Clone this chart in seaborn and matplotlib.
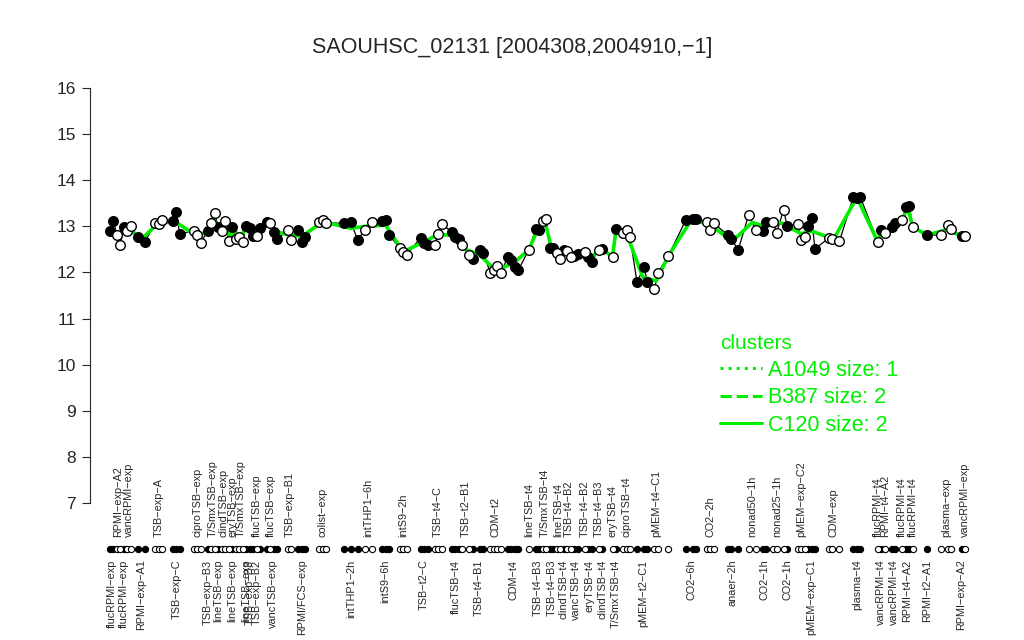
import pandas as pd
import seaborn as sns
import matplotlib.pyplot as plt
import matplotlib.transforms as mtransforms
from matplotlib.lines import Line2D

title = "SAOUHSC_02131 [2004308,2004910,\u22121]"

# one entry per condition group, left to right
group_labels = [
    "flucRPMI-exp", "RPMI-exp-A2", "flucRPMI-exp", "vancRPMI-exp", "RPMI-exp-A1",
    "TSB-exp-A", "TSB-exp-C", "ciproTSB-exp", "TSB-exp-B3", "T/SmxTSB-exp",
    "lineTSB-exp", "clindTSB-exp", "lineTSB-exp", "eryTSB-exp", "T/SmxTSB-exp",
    "lineTSB-exp", "TSB-exp-B3", "flucTSB-exp", "TSB-exp-B2", "vancTSB-exp",
    "flucTSB-exp", "TSB-exp-B1", "RPMI/FCS-exp", "colist-exp", "intTHP1-2h",
    "intTHP1-6h", "intS9-6h", "intS9-2h", "TSB-t2-C", "TSB-t4-C",
    "flucTSB-t4", "TSB-t2-B1", "TSB-t4-B1", "CDM-t2", "CDM-t4",
    "lineTSB-t4", "TSB-t4-B3", "T/SmxTSB-t4", "TSB-t4-B3", "lineTSB-t4",
    "clindTSB-t4", "TSB-t4-B2", "vancTSB-t4", "TSB-t4-B2", "eryTSB-t4",
    "TSB-t4-B3", "clindTSB-t4", "eryTSB-t4", "T/SmxTSB-t4", "ciproTSB-t4",
    "pMEM-t2-C1", "pMEM-t4-C1", "", "CO2-6h", "CO2-2h",
    "anaer-2h", "nonad50-1h", "CO2-1h", "nonad25-1h", "CO2-1h",
    "pMEM-exp-C2", "pMEM-exp-C1", "CDM-exp", "plasma-t4", "flucRPMI-t4",
    "vancRPMI-t4", "RPMI-t4-A2", "vancRPMI-t4", "flucRPMI-t4", "RPMI-t4-A2",
    "flucRPMI-t4", "RPMI-t2-A1", "plasma-exp", "RPMI-exp-A2", "vancRPMI-exp",
]
# B = label below the dot row, T = label above it
group_sides = list(
    "BTBTB" "TBTBT" "BTBTT" "BBTBB" "TTBTB"
    "TBTBT" "BTBTB" "TBTBT" "BTBTB" "TBTBT"
    "BTTBT" "BTBTB" "TBTBT" "BTBTB" "TBTBT"
)
# sample order index of every sample in each group
group_x = [
    [1, 2], [3, 4], [5], [6, 7], [9, 11],
    [14, 15, 16], [19, 20, 21], [25, 26, 27], [29], [30, 31],
    [32], [33, 34], [36], [35, 37], [38, 39],
    [40], [41], [43], [42, 44], [46, 48, 49],
    [47], [52, 53], [55, 56, 57], [61, 62, 63], [68, 70, 72],
    [74, 76], [79, 80, 81], [84, 85, 86], [90, 91, 92], [94, 95, 96],
    [99, 100, 101], [102, 104], [105, 107, 108], [110, 111, 112, 113], [115, 116, 117, 118],
    [121], [123, 124], [125, 126], [127, 128], [129, 130],
    [131], [132, 133], [134, 135], [137], [138, 139],
    [141], [142], [145], [146], [148, 149, 150],
    [152, 154, 155], [157, 158], [161], [166, 168, 169], [172, 173, 174],
    [178, 179, 181], [184, 186], [188, 189], [191, 192, 194], [195],
    [198, 199, 200], [201, 202, 203], [207, 208, 210], [214, 215, 216], [221],
    [222], [223], [225, 226], [228], [229, 230],
    [231], [235], [239, 241, 242], [245], [246],
]
group_y = [
    [12.90, 13.12], [12.81, 12.60], [12.99], [12.90, 13.00], [12.77, 12.66],
    [13.07, 13.05, 13.14], [13.12, 13.31, 12.84], [12.90, 12.81, 12.64], [12.90], [13.07, 13.29],
    [12.99], [12.90, 13.12], [12.99], [12.68, 12.73], [12.77, 12.66],
    [13.01], [12.97], [12.79], [12.79, 12.97], [13.10, 12.88, 12.73],
    [13.07], [12.92, 12.70], [12.92, 12.66, 12.77], [13.10, 13.14, 13.07], [13.07, 13.10, 12.70],
    [12.92, 13.10], [13.12, 13.14, 12.81], [12.53, 12.44, 12.38], [12.75, 12.64, 12.60], [12.60, 12.84, 13.05],
    [12.88, 12.77, 12.73], [12.60, 12.38], [12.29, 12.49, 12.42], [11.99, 12.05, 12.14, 11.99], [12.34, 12.27, 12.12, 12.05],
    [12.49], [12.94, 12.92], [13.12, 13.16], [12.53, 12.53], [12.42, 12.29],
    [12.49], [12.47, 12.34], [12.36, 12.40], [12.44], [12.34, 12.23],
    [12.49], [12.51], [12.34], [12.94], [12.86, 12.92, 12.77],
    [11.79, 12.12, 11.79], [11.64, 11.99], [12.36], [13.14, 13.16, 13.16], [13.10, 12.92, 13.07],
    [12.81, 12.73, 12.49], [13.25, 12.92], [12.90, 13.10], [13.10, 12.86, 13.36], [13.01],
    [13.05, 12.70, 12.77], [13.01, 13.18, 12.51], [12.75, 12.73, 12.68], [13.64, 13.62, 13.63], [12.66],
    [12.92], [12.86], [12.99, 13.07], [13.14], [13.42, 13.44],
    [12.99], [12.81], [12.81, 13.03, 12.94], [12.79], [12.79],
]
# 1 = filled point, 0 = open point (same for all samples of a group)
group_filled = [
    1, 0, 1, 0, 1, 0, 1, 0, 1, 0,
    1, 0, 1, 0, 0, 1, 1, 0, 1, 1,
    0, 0, 1, 0, 1, 0, 1, 0, 1, 0,
    1, 0, 1, 0, 1, 0, 1, 0, 1, 0,
    1, 0, 1, 0, 1, 0, 1, 0, 1, 0,
    1, 0, 0, 1, 0, 1, 0, 1, 0, 1,
    0, 1, 0, 1, 0, 1, 0, 1, 0, 1,
    0, 1, 0, 1, 0,
]

legend_title = "clusters"
legend_labels = ["A1049 size: 1", "B387 size: 2", "C120 size: 2"]

rows = []
for g, (xs, ys) in enumerate(zip(group_x, group_y)):
    for xv, yv in zip(xs, ys):
        rows.append({"group": g, "x": xv, "y": yv, "filled": group_filled[g]})
df = pd.DataFrame(rows).sort_values("x")
means = df.groupby("group")[["x", "y"]].mean()

sns.set_style("white")
plt.rcParams["font.family"] = ["Liberation Sans", "DejaVu Sans"]
green = "#00ee00"

fig = plt.figure(figsize=(10.24, 6.4), dpi=100)
ax = fig.add_axes([90 / 1024, 120 / 640, 895 / 1024, 449 / 640])

sns.lineplot(data=df, x="x", y="y", color="black", lw=0.9, estimator=None, sort=True, ax=ax, zorder=2)
sns.lineplot(data=means, x="x", y="y", color=green, lw=2.6, estimator=None, sort=True, ax=ax, zorder=3)
sns.scatterplot(data=df[df.filled == 1], x="x", y="y", color="black", edgecolor="black",
                s=48, linewidth=1, ax=ax, zorder=4)
sns.scatterplot(data=df[df.filled == 0], x="x", y="y", color="white", edgecolor="black",
                s=48, linewidth=1, ax=ax, zorder=5)

ax.set_xlim(-4.7, 251.7)
ax.set_ylim(6.63, 16.37)
ax.set_xticks([])
ax.set_yticks(range(7, 17))
ax.set_xlabel("")
ax.set_ylabel("")
for s in ["top", "right", "bottom"]:
    ax.spines[s].set_visible(False)
ax.spines["left"].set_bounds(7, 16)
ax.spines["left"].set_linewidth(0.8)
ax.tick_params(axis="y", direction="out", length=6, width=0.8, labelsize=12.5, pad=4, left=True)

# dot row and condition labels below the plot region
trans = mtransforms.blended_transform_factory(ax.transData, ax.transAxes)
ax.scatter(df.x[df.filled == 1], [-0.065] * int((df.filled == 1).sum()), s=20, c="black",
           edgecolors="black", linewidths=0.8, transform=trans, clip_on=False, zorder=5)
ax.scatter(df.x[df.filled == 0], [-0.065] * int((df.filled == 0).sum()), s=20, c="white",
           edgecolors="black", linewidths=0.8, transform=trans, clip_on=False, zorder=6)
for g, lab in enumerate(group_labels):
    if not lab:
        continue
    txt = lab.replace("-", "\u2212")
    if group_sides[g] == "T":
        ax.text(means.x[g], -0.038, txt, rotation=90, ha="center", va="bottom",
                fontsize=7.8, transform=trans, clip_on=False)
    else:
        ax.text(means.x[g], -0.088, txt, rotation=90, ha="center", va="top",
                fontsize=7.8, transform=trans, clip_on=False)

fig.text(0.5, 1 - 48 / 640, title, ha="center", va="center", fontsize=15.5)

handles = [Line2D([], [], color=green, lw=2.2, ls=ls) for ls in [":", "--", "-"]]
leg = ax.legend(handles, legend_labels, title=legend_title, loc="upper left",
                bbox_to_anchor=(701 / 1024, 1 - 315 / 640), bbox_transform=fig.transFigure,
                frameon=False, fontsize=15.5, title_fontsize=15, handlelength=1.95,
                handletextpad=0.25, labelspacing=0.3, alignment="left")
leg.get_title().set_color(green)
for t in leg.get_texts():
    t.set_color(green)

fig.savefig("out.png", dpi=100)
